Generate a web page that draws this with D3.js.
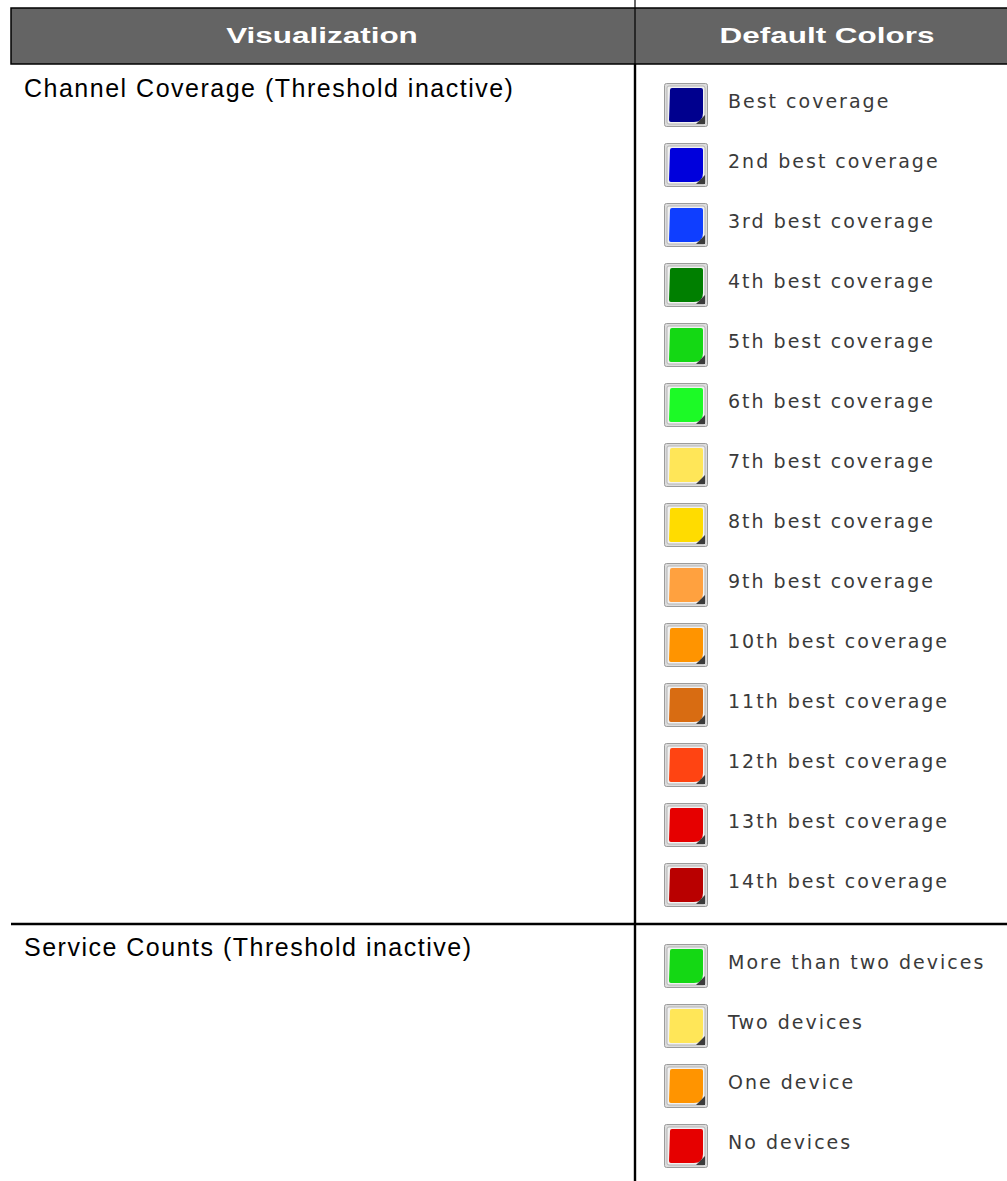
<!DOCTYPE html>
<html>
<head>
<meta charset="utf-8">
<script src="https://cdn.jsdelivr.net/npm/d3@7"></script>
<style>
  html, body { margin: 0; padding: 0; background: #ffffff; }
  svg { display: block; }
</style>
</head>
<body>
<div id="chart"></div>
<script>
// table content
const headers = ['Visualization', 'Default Colors'];
const rowTitles = ['Channel Coverage (Threshold inactive)', 'Service Counts (Threshold inactive)'];

const coverageLabels = [
  'Best coverage', '2nd best coverage', '3rd best coverage', '4th best coverage',
  '5th best coverage', '6th best coverage', '7th best coverage', '8th best coverage',
  '9th best coverage', '10th best coverage', '11th best coverage', '12th best coverage',
  '13th best coverage', '14th best coverage'
];
const coverageColors = [
  '#00008e', '#0000dc', '#0f3eff', '#007f00', '#14d814', '#1cfa26', '#ffe658',
  '#ffdc00', '#ffa13f', '#ff9400', '#d86c12', '#ff4412', '#e60000', '#b90000'
];
const serviceLabels = ['More than two devices', 'Two devices', 'One device', 'No devices'];
const serviceColors = ['#14d814', '#ffe658', '#ff9400', '#e60000'];

const W = 1007, H = 1181;
const svg = d3.select('#chart').append('svg').attr('width', W).attr('height', H);

// layout
const left = 11, headTop = 8, headBottom = 64, colX = 635, rowSplit = 924;

// header
svg.append('rect')
  .attr('x', left).attr('y', headTop)
  .attr('width', W - left + 5).attr('height', headBottom - headTop)
  .attr('fill', '#646464').attr('stroke', '#000').attr('stroke-width', 1.5);

const headX = d3.scaleOrdinal().domain(headers).range([322, 827]);
svg.selectAll('text.head').data(headers).join('text')
  .attr('class', 'head')
  .attr('transform', d => `translate(${headX(d)},43) scale(1.43,1)`)
  .attr('text-anchor', 'middle')
  .attr('font-family', '"Liberation Sans", Arial, sans-serif')
  .attr('font-weight', 'bold').attr('font-size', 22)
  .attr('fill', '#ffffff')
  .text(d => d);

// grid lines
svg.append('line').attr('x1', colX).attr('x2', colX).attr('y1', 0).attr('y2', headBottom)
  .attr('stroke', '#000').attr('stroke-width', 1.2);
svg.append('line').attr('x1', colX).attr('x2', colX).attr('y1', headBottom).attr('y2', H)
  .attr('stroke', '#000').attr('stroke-width', 2.4);
svg.append('line').attr('x1', left).attr('x2', W).attr('y1', rowSplit).attr('y2', rowSplit)
  .attr('stroke', '#000').attr('stroke-width', 2.4);

// row titles
const rowY = d3.scaleOrdinal().domain(rowTitles).range([97, 956]);
svg.selectAll('text.row').data(rowTitles).join('text')
  .attr('class', 'row')
  .attr('x', 24).attr('y', d => rowY(d))
  .attr('font-family', '"Liberation Sans", Arial, sans-serif')
  .attr('font-size', 25).attr('letter-spacing', 1.5)
  .attr('fill', '#000')
  .text(d => d);

// swatch legend
const sw = 44;
function legend(labels, colors, y0) {
  const y = d3.scaleBand().domain(labels).range([y0, y0 + labels.length * 60]);
  const color = d3.scaleOrdinal().domain(labels).range(colors);
  const g = svg.append('g').selectAll('g').data(labels).join('g')
    .attr('transform', d => `translate(664,${y(d) + (y.bandwidth() - sw) / 2})`);

  g.append('rect').attr('x', 0.5).attr('y', 0.5).attr('width', sw - 1).attr('height', sw - 1)
    .attr('rx', 2).attr('fill', '#dcdcdc').attr('stroke', '#9c9c9c');
  g.append('rect').attr('x', 3).attr('y', 3).attr('width', sw - 6).attr('height', sw - 6)
    .attr('rx', 2).attr('fill', '#f2f2f2').attr('stroke', '#b4b4b4');
  g.append('path')
    .attr('d', 'M6,7 Q6,5 8,5 L37,5 Q39,5 39,7 L39,30 Q39,39 30,39 L7,39 Q5,39 5,37 Z')
    .attr('fill', d => color(d));
  g.append('path').attr('d', 'M41,32 L41,41 L32,41 Z').attr('fill', '#3c3c3c');

  g.append('text')
    .attr('x', 64).attr('y', sw / 2 - 4)
    .attr('dominant-baseline', 'central')
    .attr('font-family', '"DejaVu Sans", Verdana, sans-serif')
    .attr('font-size', 19).attr('letter-spacing', 2)
    .attr('fill', '#3a3a3a')
    .text(d => d);
}
legend(coverageLabels, coverageColors, 75);
legend(serviceLabels, serviceColors, 936);
</script>
</body>
</html>
